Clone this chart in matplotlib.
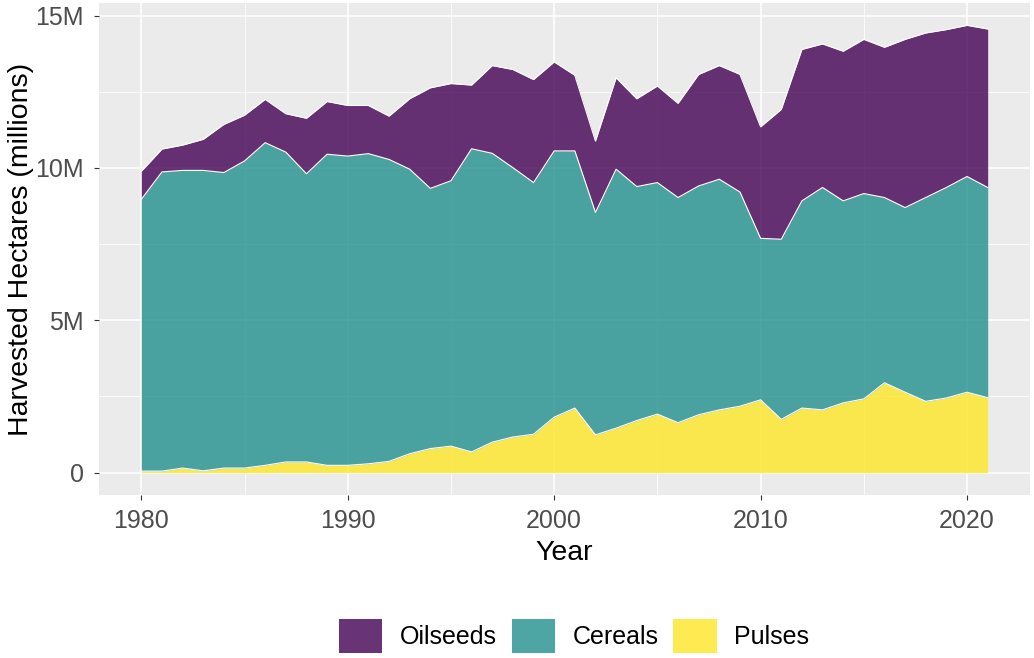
import matplotlib
matplotlib.use('Agg')
import matplotlib.pyplot as plt
import numpy as np
from matplotlib.patches import Patch
from matplotlib.ticker import FuncFormatter, MultipleLocator

plt.rcParams['font.family'] = ['Liberation Sans', 'DejaVu Sans']

# harvested area per crop group, millions of hectares
years = list(range(1980, 2022))
pulses = [0.05, 0.05, 0.15, 0.06, 0.15, 0.15, 0.24, 0.35, 0.35, 0.24,
          0.24, 0.29, 0.37, 0.62, 0.79, 0.87, 0.68, 1.00, 1.17, 1.26,
          1.82, 2.12, 1.24, 1.46, 1.71, 1.92, 1.64, 1.90, 2.06, 2.18,
          2.39, 1.75, 2.12, 2.06, 2.29, 2.42, 2.95, 2.64, 2.34, 2.45,
          2.64, 2.46]
cereals = [8.92, 9.82, 9.77, 9.86, 9.70, 10.08, 10.59, 10.17, 9.46, 10.21,
           10.15, 10.18, 9.91, 9.34, 8.54, 8.71, 9.95, 9.48, 8.84, 8.26,
           8.74, 8.44, 7.30, 8.50, 7.68, 7.60, 7.39, 7.51, 7.57, 7.03,
           5.30, 5.91, 6.80, 7.30, 6.63, 6.74, 6.08, 6.06, 6.69, 6.91,
           7.08, 6.90]
oilseeds = [0.92, 0.75, 0.83, 1.02, 1.58, 1.50, 1.42, 1.26, 1.82, 1.73,
            1.66, 1.58, 1.42, 2.31, 3.30, 3.19, 2.09, 2.88, 3.22, 3.38,
            2.92, 2.48, 2.34, 3.00, 2.88, 3.17, 3.09, 3.66, 3.73, 3.86,
            3.66, 4.26, 4.97, 4.71, 4.91, 5.06, 4.93, 5.52, 5.40, 5.18,
            4.96, 5.20]

crops = ['Pulses', 'Cereals', 'Oilseeds']   # stacking order, bottom up
colors = {'Oilseeds': '#440154', 'Cereals': '#21908C', 'Pulses': '#FDE725'}

x = np.array(years)
layers = [np.array(pulses) * 1e6, np.array(cereals) * 1e6, np.array(oilseeds) * 1e6]

fig = plt.figure(figsize=(10.34, 6.58), dpi=100)
ax = fig.add_axes([99 / 1034, 1 - 495 / 658, 931 / 1034, 492 / 658])
ax.set_facecolor('#EBEBEB')
ax.set_axisbelow(True)

base = np.zeros(len(x))
for name, vals in zip(crops, layers):
    top = base + vals
    ax.fill_between(x, base, top, color=colors[name], alpha=0.8, linewidth=0, zorder=2)
    ax.plot(x, top, color='white', lw=0.8, zorder=3)
    base = top

ymax = base.max()
ax.set_xlim(1980 - 0.05 * 41, 2021 + 0.05 * 41)
ax.set_ylim(-0.05 * ymax, ymax * 1.05)

ax.xaxis.set_major_locator(MultipleLocator(10))
ax.xaxis.set_minor_locator(MultipleLocator(5))
ax.yaxis.set_major_locator(MultipleLocator(5e6))
ax.yaxis.set_minor_locator(MultipleLocator(2.5e6))
ax.yaxis.set_major_formatter(FuncFormatter(lambda v, p: '0' if v == 0 else '%dM' % round(v / 1e6)))

ax.grid(which='major', color='white', lw=1.1)
ax.grid(which='minor', color='white', lw=0.55)
for s in ax.spines.values():
    s.set_visible(False)
ax.tick_params(which='major', length=3.6, width=0.8, color='#333333',
               labelcolor='#4D4D4D', labelsize=18)
ax.tick_params(axis='x', pad=6.5)
ax.tick_params(axis='y', pad=7.5)
ax.tick_params(which='minor', length=0)

ax.set_xlabel('Year', fontsize=20.5, va='center')
ax.set_ylabel('Harvested Hectares (millions)', fontsize=20.5, va='center')
ax.xaxis.set_label_coords(0.5, (495 - 553) / 492)
ax.yaxis.set_label_coords((21 - 99) / 931, 0.5)

handles = [Patch(facecolor=colors[n], alpha=0.8, edgecolor='none', label=n)
           for n in ['Oilseeds', 'Cereals', 'Pulses']]
fig.legend(handles=handles, loc='center', bbox_to_anchor=(574 / 1034, 1 - 636 / 658),
           ncol=3, frameon=False, fontsize=18, handlelength=1.73, handleheight=1.69,
           handletextpad=0.7, columnspacing=0.6, borderpad=0)

fig.savefig('out.png', dpi=100)
